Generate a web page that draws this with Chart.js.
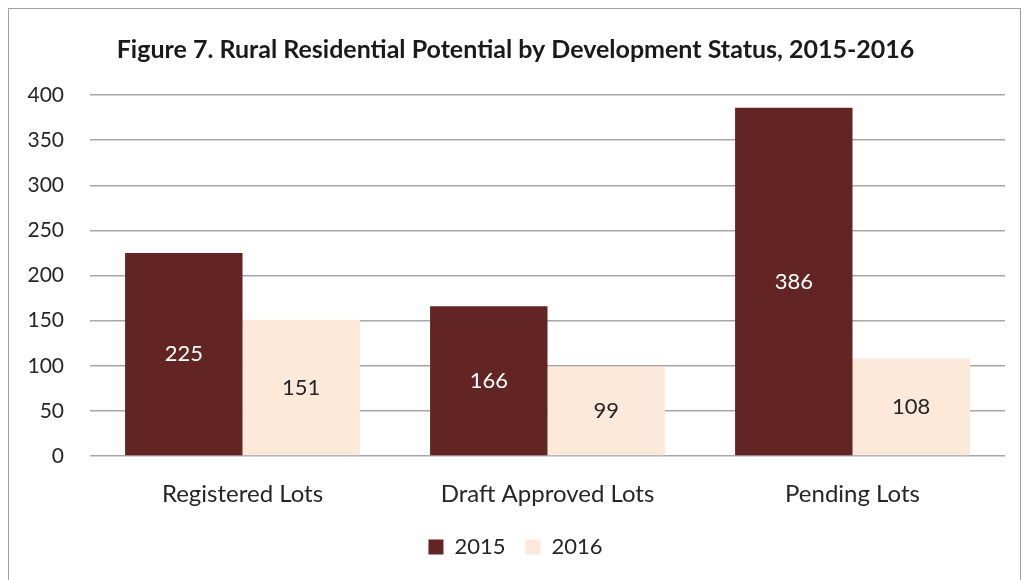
<!DOCTYPE html>
<html>
<head>
<meta charset="utf-8">
<script src="https://cdn.jsdelivr.net/npm/chart.js@4"></script>
<style>
    html, body { margin: 0; padding: 0; background: #fff; }
    #wrap { position: relative; width: 1024px; height: 580px; }
    #frame { position: absolute; left: 8px; top: 8px; width: 1013px; height: 600px; border: 1.5px solid #a0a0a0; box-sizing: border-box; }
    canvas { position: absolute; left: 0; top: 0; }
</style>
</head>
<body>
<div id="wrap">
    <div id="frame"></div>
    <canvas id="chart" width="1024" height="580"></canvas>
</div>
<script>
const categories = ['Registered Lots', 'Draft Approved Lots', 'Pending Lots'];
const values2015 = [225, 166, 386];
const values2016 = [151, 99, 108];
const yTicks = [0, 50, 100, 150, 200, 250, 300, 350, 400];

const FONT = 'Lato, "Open Sans", sans-serif';

// draws the value in the middle of each bar
const barLabels = {
    id: 'barLabels',
    afterDatasetsDraw(chart) {
        const ctx = chart.ctx;
        ctx.save();
        ctx.font = '22px ' + FONT;
        ctx.textAlign = 'center';
        ctx.textBaseline = 'middle';
        chart.data.datasets.forEach((ds, i) => {
            const meta = chart.getDatasetMeta(i);
            meta.data.forEach((bar, j) => {
                const mid = (bar.y + bar.base) / 2;
                ctx.fillStyle = i === 0 ? '#ffffff' : '#262626';
                ctx.fillText(ds.data[j], bar.x, mid);
            });
        });
        ctx.restore();
    }
};

new Chart(document.getElementById('chart'), {
    type: 'bar',
    data: {
        labels: categories,
        datasets: [
            { label: '2015', data: values2015, backgroundColor: '#632523' },
            { label: '2016', data: values2016, backgroundColor: '#fde9d9' }
        ]
    },
    options: {
        responsive: false,
        animation: false,
        categoryPercentage: 0.77,
        barPercentage: 1.0,
        layout: { padding: { left: 26, right: 19, top: 35, bottom: 12 } },
        plugins: {
            title: {
                display: true,
                text: 'Figure 7. Rural Residential Potential by Development Status, 2015-2016',
                color: '#1a1a1a',
                font: { family: FONT, size: 25, weight: 'bold', lineHeight: 1.2 },
                padding: { top: 0, bottom: 30 }
            },
            legend: {
                position: 'bottom',
                labels: {
                    color: '#262626',
                    font: { family: FONT, size: 22 },
                    boxWidth: 15,
                    boxHeight: 15,
                    padding: 20,
                    useBorderRadius: false
                }
            },
            tooltip: { enabled: false }
        },
        scales: {
            x: {
                grid: { display: false },
                border: { display: false },
                ticks: { color: '#262626', font: { family: FONT, size: 24 }, padding: 16 },
                afterFit(scale) { scale.height = 60; }
            },
            y: {
                min: 0,
                max: 400,
                afterBuildTicks(scale) { scale.ticks = yTicks.map(v => ({ value: v })); },
                grid: { color: '#a6a6a6', lineWidth: 1.5, drawTicks: false },
                border: { display: false },
                ticks: { color: '#262626', font: { family: FONT, size: 21 }, padding: 26 },
                afterFit(scale) { scale.width = 64; }
            }
        }
    },
    plugins: [barLabels]
});
</script>
</body>
</html>
